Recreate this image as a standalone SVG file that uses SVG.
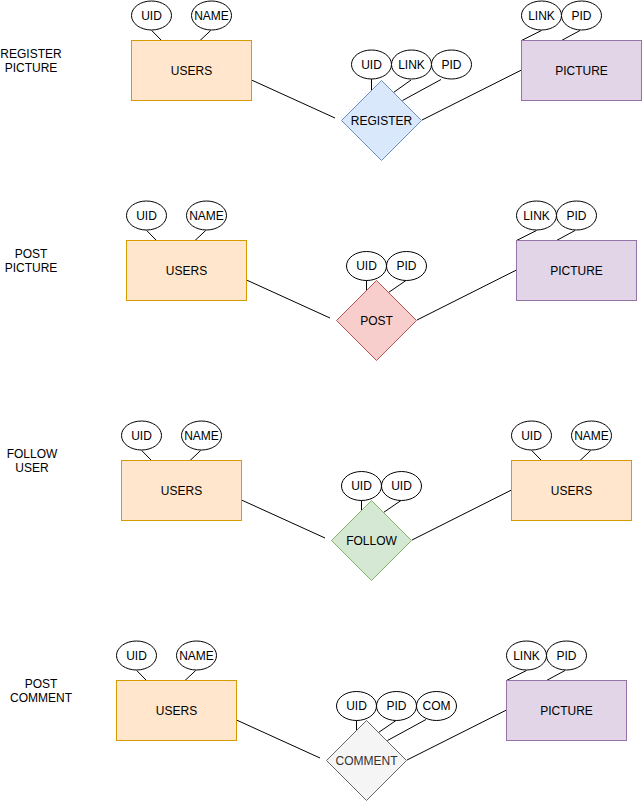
<svg xmlns="http://www.w3.org/2000/svg" width="642" height="801" viewBox="0 0 642 801">
  <style>
    text { font-family: "Liberation Sans", Arial, Helvetica, sans-serif; font-size: 12px; fill: #000000; text-anchor: middle; }
    .attr { fill: #ffffff; stroke: #000000; stroke-width: 1; }
    .users { fill: #ffe6cc; stroke: #d79b00; stroke-width: 1; }
    .picture { fill: #e1d5e7; stroke: #9673a6; stroke-width: 1; }
    .register { fill: #dae8fc; stroke: #6c8ebf; stroke-width: 1; }
    .post { fill: #f8cecc; stroke: #b85450; stroke-width: 1; }
    .follow { fill: #d5e8d4; stroke: #82b366; stroke-width: 1; }
    .comment { fill: #f5f5f5; stroke: #666666; stroke-width: 1; }
    .comment-text { fill: #333333; }
    .edge { stroke: #000000; stroke-width: 1; fill: none; }
  </style>
  <defs>
    <!-- shared shapes, positioned by <use> -->
    <rect id="entity-box" x="0" y="0" width="120" height="60"/>
    <ellipse id="attr-oval" cx="0" cy="0" rx="20" ry="14.5"/>
    <polygon id="rel-diamond" points="40,0 80,40 40,80 0,40"/>
  </defs>

  <rect x="0" y="0" width="642" height="801" fill="#ffffff"/>

  <!-- section captions -->
  <g id="caption-register">
    <text x="31" y="57.5">REGISTER</text>
    <text x="31" y="72">PICTURE</text>
  </g>
  <g id="caption-post">
    <text x="31" y="257.5">POST</text>
    <text x="31" y="272">PICTURE</text>
  </g>
  <g id="caption-follow">
    <text x="32" y="457.5">FOLLOW</text>
    <text x="32" y="472">USER</text>
  </g>
  <g id="caption-comment">
    <text x="41" y="687.5">POST</text>
    <text x="41" y="702">COMMENT</text>
  </g>

  <!-- connectors -->
  <g id="connectors">
    <g id="edges-register">
      <line class="edge" x1="151.7" y1="30.5" x2="161.5" y2="40.5"/>
      <line class="edge" x1="210.7" y1="30.5" x2="200" y2="40.5"/>
      <line class="edge" x1="251.5" y1="80" x2="335" y2="118"/>
      <line class="edge" x1="422" y1="120" x2="521.5" y2="70"/>
      <line class="edge" x1="541.5" y1="30.5" x2="521.5" y2="40.5"/>
      <line class="edge" x1="580" y1="30.5" x2="561.5" y2="40.5"/>
      <line class="edge" x1="371.5" y1="79" x2="371.5" y2="90"/>
      <line class="edge" x1="411" y1="80" x2="393.5" y2="92.5"/>
      <line class="edge" x1="441" y1="79.5" x2="402.5" y2="100.5"/>
    </g>
    <g id="edges-post" transform="translate(-5,200)">
      <line class="edge" x1="151.7" y1="30.5" x2="161.5" y2="40.5"/>
      <line class="edge" x1="210.7" y1="30.5" x2="200" y2="40.5"/>
      <line class="edge" x1="251.5" y1="80" x2="335" y2="118"/>
      <line class="edge" x1="422" y1="120" x2="521.5" y2="70"/>
      <line class="edge" x1="541.5" y1="30.5" x2="521.5" y2="40.5"/>
      <line class="edge" x1="580" y1="30.5" x2="561.5" y2="40.5"/>
      <line class="edge" x1="371.5" y1="80" x2="371.5" y2="90"/>
      <line class="edge" x1="411" y1="80.5" x2="393.5" y2="92.5"/>
    </g>
    <g id="edges-follow" transform="translate(-10,420)">
      <line class="edge" x1="151.7" y1="30.5" x2="161.5" y2="40.5"/>
      <line class="edge" x1="210.7" y1="30.5" x2="200" y2="40.5"/>
      <line class="edge" x1="251.5" y1="80" x2="335" y2="118"/>
      <line class="edge" x1="422" y1="120" x2="521.5" y2="70"/>
      <line class="edge" x1="541.7" y1="30.5" x2="551.5" y2="40.5"/>
      <line class="edge" x1="600.7" y1="30.5" x2="590" y2="40.5"/>
      <line class="edge" x1="371.5" y1="80" x2="371.5" y2="90"/>
      <line class="edge" x1="411" y1="80.5" x2="393.5" y2="92.5"/>
    </g>
    <g id="edges-comment" transform="translate(-15,640)">
      <line class="edge" x1="151.7" y1="30.5" x2="161.5" y2="40.5"/>
      <line class="edge" x1="210.7" y1="30.5" x2="200" y2="40.5"/>
      <line class="edge" x1="251.5" y1="80" x2="335" y2="118"/>
      <line class="edge" x1="422" y1="120" x2="521.5" y2="70"/>
      <line class="edge" x1="541.5" y1="30.5" x2="521.5" y2="40.5"/>
      <line class="edge" x1="580" y1="30.5" x2="561.5" y2="40.5"/>
      <line class="edge" x1="371.5" y1="80" x2="371.5" y2="90"/>
      <line class="edge" x1="411" y1="80.5" x2="393.5" y2="92.5"/>
      <line class="edge" x1="441" y1="79.5" x2="402.5" y2="100.5"/>
    </g>
  </g>

  <!-- REGISTER PICTURE -->
  <g id="section-register">
    <g id="users-1">
      <use href="#entity-box" class="users" x="131.5" y="40.5"/>
      <text x="191.5" y="74.5">USERS</text>
    </g>
    <g id="users-1-uid">
      <use href="#attr-oval" class="attr" x="151.5" y="15.5"/>
      <text x="151.5" y="19.5">UID</text>
    </g>
    <g id="users-1-name">
      <use href="#attr-oval" class="attr" x="211.5" y="15.5"/>
      <text x="211.5" y="19.5">NAME</text>
    </g>
    <g id="register">
      <use href="#rel-diamond" class="register" x="341.5" y="80.5"/>
      <text x="381.5" y="124.5">REGISTER</text>
    </g>
    <g id="register-uid">
      <use href="#attr-oval" class="attr" x="371.5" y="64.5"/>
      <text x="371.5" y="68.5">UID</text>
    </g>
    <g id="register-link">
      <use href="#attr-oval" class="attr" x="411.5" y="64.5"/>
      <text x="411.5" y="68.5">LINK</text>
    </g>
    <g id="register-pid">
      <use href="#attr-oval" class="attr" x="451.5" y="64.5"/>
      <text x="451.5" y="68.5">PID</text>
    </g>
    <g id="picture-1">
      <use href="#entity-box" class="picture" x="521.5" y="40.5"/>
      <text x="581.5" y="74.5">PICTURE</text>
    </g>
    <g id="picture-1-link">
      <use href="#attr-oval" class="attr" x="541.5" y="15.5"/>
      <text x="541.5" y="19.5">LINK</text>
    </g>
    <g id="picture-1-pid">
      <use href="#attr-oval" class="attr" x="581.5" y="15.5"/>
      <text x="581.5" y="19.5">PID</text>
    </g>
  </g>

  <!-- POST PICTURE -->
  <g id="section-post" transform="translate(-5,200)">
    <g id="users-2">
      <use href="#entity-box" class="users" x="131.5" y="40.5"/>
      <text x="191.5" y="74.5">USERS</text>
    </g>
    <g id="users-2-uid">
      <use href="#attr-oval" class="attr" x="151.5" y="15.5"/>
      <text x="151.5" y="19.5">UID</text>
    </g>
    <g id="users-2-name">
      <use href="#attr-oval" class="attr" x="211.5" y="15.5"/>
      <text x="211.5" y="19.5">NAME</text>
    </g>
    <g id="post">
      <use href="#rel-diamond" class="post" x="341.5" y="80.5"/>
      <text x="381.5" y="124.5">POST</text>
    </g>
    <g id="post-uid">
      <use href="#attr-oval" class="attr" x="371.5" y="66"/>
      <text x="371.5" y="70">UID</text>
    </g>
    <g id="post-pid">
      <use href="#attr-oval" class="attr" x="411.5" y="66"/>
      <text x="411.5" y="70">PID</text>
    </g>
    <g id="picture-2">
      <use href="#entity-box" class="picture" x="521.5" y="40.5"/>
      <text x="581.5" y="74.5">PICTURE</text>
    </g>
    <g id="picture-2-link">
      <use href="#attr-oval" class="attr" x="541.5" y="15.5"/>
      <text x="541.5" y="19.5">LINK</text>
    </g>
    <g id="picture-2-pid">
      <use href="#attr-oval" class="attr" x="581.5" y="15.5"/>
      <text x="581.5" y="19.5">PID</text>
    </g>
  </g>

  <!-- FOLLOW USER -->
  <g id="section-follow" transform="translate(-10,420)">
    <g id="users-3">
      <use href="#entity-box" class="users" x="131.5" y="40.5"/>
      <text x="191.5" y="74.5">USERS</text>
    </g>
    <g id="users-3-uid">
      <use href="#attr-oval" class="attr" x="151.5" y="15.5"/>
      <text x="151.5" y="19.5">UID</text>
    </g>
    <g id="users-3-name">
      <use href="#attr-oval" class="attr" x="211.5" y="15.5"/>
      <text x="211.5" y="19.5">NAME</text>
    </g>
    <g id="follow">
      <use href="#rel-diamond" class="follow" x="341.5" y="80.5"/>
      <text x="381.5" y="124.5">FOLLOW</text>
    </g>
    <g id="follow-uid-a">
      <use href="#attr-oval" class="attr" x="371.5" y="66"/>
      <text x="371.5" y="70">UID</text>
    </g>
    <g id="follow-uid-b">
      <use href="#attr-oval" class="attr" x="411.5" y="66"/>
      <text x="411.5" y="70">UID</text>
    </g>
    <g id="users-4">
      <use href="#entity-box" class="users" x="521.5" y="40.5"/>
      <text x="581.5" y="74.5">USERS</text>
    </g>
    <g id="users-4-uid">
      <use href="#attr-oval" class="attr" x="541.5" y="15.5"/>
      <text x="541.5" y="19.5">UID</text>
    </g>
    <g id="users-4-name">
      <use href="#attr-oval" class="attr" x="601.5" y="15.5"/>
      <text x="601.5" y="19.5">NAME</text>
    </g>
  </g>

  <!-- POST COMMENT -->
  <g id="section-comment" transform="translate(-15,640)">
    <g id="users-5">
      <use href="#entity-box" class="users" x="131.5" y="40.5"/>
      <text x="191.5" y="74.5">USERS</text>
    </g>
    <g id="users-5-uid">
      <use href="#attr-oval" class="attr" x="151.5" y="15.5"/>
      <text x="151.5" y="19.5">UID</text>
    </g>
    <g id="users-5-name">
      <use href="#attr-oval" class="attr" x="211.5" y="15.5"/>
      <text x="211.5" y="19.5">NAME</text>
    </g>
    <g id="comment">
      <use href="#rel-diamond" class="comment" x="341.5" y="80.5"/>
      <text class="comment-text" x="381.5" y="124.5">COMMENT</text>
    </g>
    <g id="comment-uid">
      <use href="#attr-oval" class="attr" x="371.5" y="66"/>
      <text x="371.5" y="70">UID</text>
    </g>
    <g id="comment-pid">
      <use href="#attr-oval" class="attr" x="411.5" y="66"/>
      <text x="411.5" y="70">PID</text>
    </g>
    <g id="comment-com">
      <use href="#attr-oval" class="attr" x="451.5" y="66"/>
      <text x="451.5" y="70">COM</text>
    </g>
    <g id="picture-3">
      <use href="#entity-box" class="picture" x="521.5" y="40.5"/>
      <text x="581.5" y="74.5">PICTURE</text>
    </g>
    <g id="picture-3-link">
      <use href="#attr-oval" class="attr" x="541.5" y="15.5"/>
      <text x="541.5" y="19.5">LINK</text>
    </g>
    <g id="picture-3-pid">
      <use href="#attr-oval" class="attr" x="581.5" y="15.5"/>
      <text x="581.5" y="19.5">PID</text>
    </g>
  </g>
</svg>
